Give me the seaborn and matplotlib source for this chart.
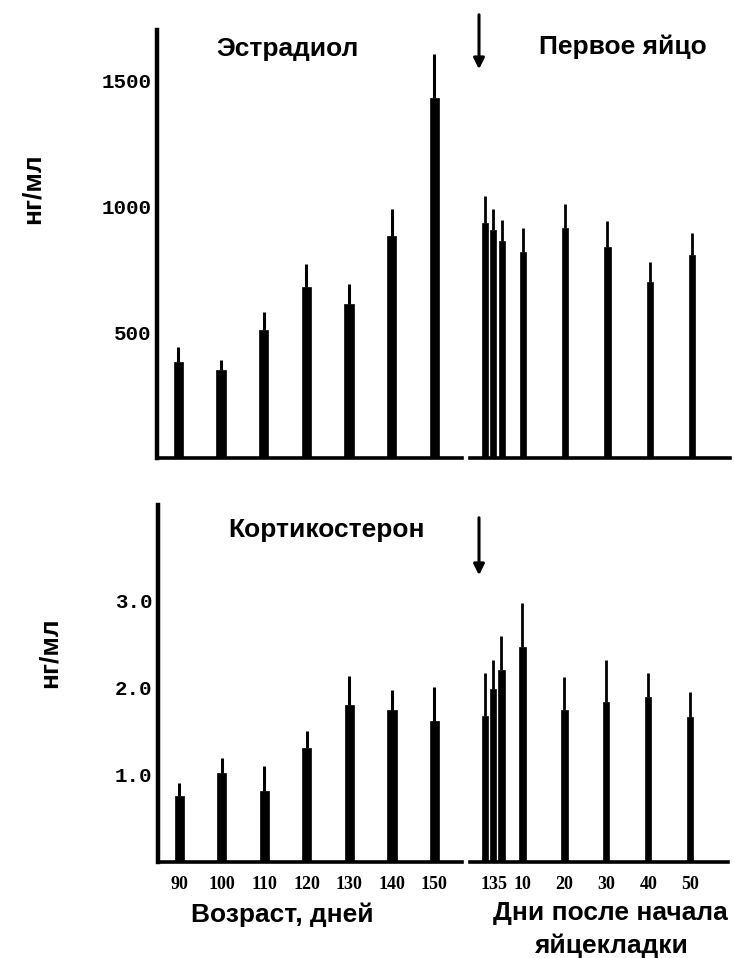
import numpy as np
import pandas as pd
import matplotlib
matplotlib.use("Agg")
import matplotlib.pyplot as plt
import seaborn as sns

sns.set_style("white")
plt.rcParams['font.family'] = ['Liberation Sans', 'DejaVu Sans']
plt.rcParams['text.color'] = 'black'
plt.rcParams['xtick.color'] = 'black'
plt.rcParams['ytick.color'] = 'black'
plt.rcParams['axes.edgecolor'] = 'black'

# Data
age_days = [90, 100, 110, 120, 130, 140, 150]
lay_days = [1, 3, 5, 10, 20, 30, 40, 50]

estradiol_age = [380, 350, 510, 680, 610, 880, 1430]
estradiol_age_err = [60, 40, 70, 90, 80, 110, 175]
estradiol_lay = [935, 905, 860, 820, 915, 840, 700, 805]
estradiol_lay_err = [105, 85, 85, 95, 95, 100, 80, 90]

cort_age = [0.76, 1.02, 0.82, 1.31, 1.80, 1.74, 1.62]
cort_age_err = [0.15, 0.18, 0.28, 0.19, 0.34, 0.24, 0.39]
cort_lay = [1.68, 1.99, 2.20, 2.47, 1.75, 1.84, 1.89, 1.66]
cort_lay_err = [0.49, 0.33, 0.40, 0.51, 0.38, 0.48, 0.28, 0.29]

W, H = 734, 958
fig = plt.figure(figsize=(W / 100, H / 100), dpi=100)


def px_axes(x0, x1, y0, y1):
    return fig.add_axes([x0 / W, 1 - y1 / H, (x1 - x0) / W, (y1 - y0) / H])


ax_tl = px_axes(157, 462, 30, 458)
ax_tr = px_axes(470, 730, 30, 458)
ax_bl = px_axes(158, 462, 505, 862)
ax_br = px_axes(470, 728, 505, 862)

ytick_font = dict(family='Liberation Mono', weight='bold', size=15)
xtick_font = dict(family='Liberation Serif', weight='bold', size=13)


def draw(ax, x, y, err, width, lw_err):
    df = pd.DataFrame({'x': x, 'y': y})
    sns.barplot(data=df, x='x', y='y', native_scale=True, color='black',
                width=width, saturation=1, edgecolor='black', linewidth=0.5,
                errorbar=None, ax=ax)
    ax.vlines(x, np.array(y), np.array(y) + np.array(err), color='black', lw=lw_err)
    ax.set_xlabel('')
    ax.set_ylabel('')


draw(ax_tl, age_days, estradiol_age, estradiol_age_err, 0.22, 2.2)
draw(ax_tr, lay_days, estradiol_lay, estradiol_lay_err, 0.75, 2.0)
draw(ax_bl, age_days, cort_age, cort_age_err, 0.22, 2.2)
draw(ax_br, lay_days, cort_lay, cort_lay_err, 0.75, 2.0)

for ax in (ax_tl, ax_bl):
    ax.set_xlim(85, 156.5)
    for s in ('top', 'right'):
        ax.spines[s].set_visible(False)
    ax.spines['left'].set_linewidth(3.2)
    ax.spines['bottom'].set_linewidth(2.6)
    ax.tick_params(axis='y', length=3, width=1.5, pad=1)
    ax.tick_params(axis='x', length=0)

for ax in (ax_tr, ax_br):
    ax.set_xlim(-2.5, 59)
    for s in ('top', 'right', 'left'):
        ax.spines[s].set_visible(False)
    ax.spines['bottom'].set_linewidth(2.6)
    ax.set_yticks([])
    ax.tick_params(axis='x', length=0)

ax_tl.set_ylim(0, 1700)
ax_tr.set_ylim(0, 1700)
ax_bl.set_ylim(0, 4.1)
ax_br.set_ylim(0, 4.1)

ax_tl.set_yticks([500, 1000, 1500])
ax_tl.set_yticklabels(['500', '1000', '1500'], **ytick_font)
ax_bl.set_yticks([1.0, 2.0, 3.0])
ax_bl.set_yticklabels(['1.0', '2.0', '3.0'], **ytick_font)

ax_tl.set_xticks([])
ax_tr.set_xticks([])
ax_bl.set_xticks(age_days)
ax_bl.set_xticklabels([str(d) for d in age_days], **xtick_font)
ax_br.set_xticks(lay_days)
ax_br.set_xticklabels([str(d) for d in lay_days], **xtick_font)
ax_bl.tick_params(axis='x', pad=10)
ax_br.tick_params(axis='x', pad=10)

title_font = dict(weight='bold', size=19, ha='center', va='center')
fig.text(288 / W, 1 - 49 / H, 'Эстрадиол', **title_font)
fig.text(623 / W, 1 - 47 / H, 'Первое яйцо', **title_font)
fig.text(326 / W, 1 - 530 / H, 'Кортикостерон', **title_font)
fig.text(282 / W, 1 - 915 / H, 'Возраст, дней', **title_font)
fig.text(610 / W, 1 - 913 / H, 'Дни после начала', **title_font)
fig.text(611 / W, 1 - 946 / H, 'яйцекладки', **title_font)

ylab_font = dict(weight='bold', size=19, ha='center', va='center', rotation=90)
fig.text(33 / W, 1 - 189 / H, 'нг/мл', **ylab_font)
fig.text(50 / W, 1 - 653 / H, 'нг/мл', **ylab_font)

# arrows marking the first egg
for y_top, y_bot in ((12, 72), (515, 578)):
    fig.add_artist(matplotlib.patches.FancyArrowPatch(
        (479 / W, 1 - y_top / H), (479 / W, 1 - y_bot / H),
        transform=fig.transFigure, arrowstyle='-|>', mutation_scale=16,
        color='black', lw=2.2))

fig.savefig('out.png', dpi=100, facecolor='white')
